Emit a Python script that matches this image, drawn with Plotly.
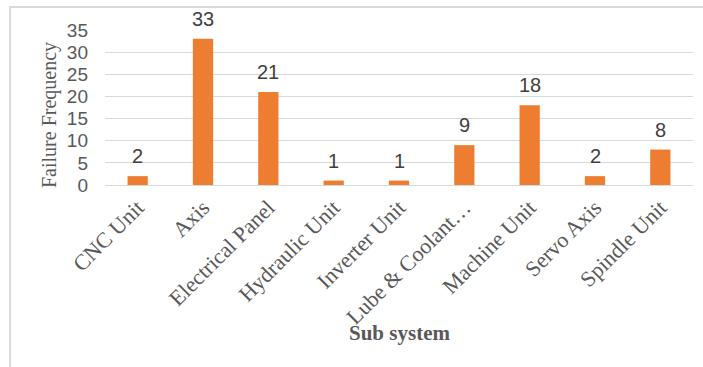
import plotly.graph_objects as go

categories = ["CNC Unit", "Axis", "Electrical Panel", "Hydraulic Unit", "Inverter Unit",
              "Lube & Coolant…", "Machine Unit", "Servo Axis", "Spindle Unit"]
values = [2, 33, 21, 1, 1, 9, 18, 2, 8]
y_ticks = [0, 5, 10, 15, 20, 25, 30, 35]

W, H = 703, 367
L, R, T, B = 105, 10, 30, 182
pw, ph = W - L - R, H - T - B

fig = go.Figure()
fig.add_trace(go.Bar(x=categories, y=values, marker_color="#ED7D31",
                     marker_line_width=0, width=0.31))

annotations = []
for c, v in zip(categories, values):
    annotations.append(dict(x=c, y=v, xref="x", yref="y", text=str(v), showarrow=False,
                            yanchor="bottom", yshift=7,
                            font=dict(family="Liberation Sans", size=20, color="#404040")))
annotations.append(dict(x=(49 - L) / pw, y=(185 - 115) / ph, xref="paper", yref="paper",
                        text="Failure Frequency", textangle=-90, showarrow=False,
                        xanchor="center", yanchor="middle",
                        font=dict(family="Liberation Serif", size=20, color="#595959")))
annotations.append(dict(x=(399 - L) / pw, y=(185 - 333) / ph, xref="paper", yref="paper",
                        text="<b>Sub system</b>", showarrow=False,
                        xanchor="center", yanchor="middle",
                        font=dict(family="Liberation Serif", size=21, color="#595959")))

fig.update_layout(
    width=W, height=H,
    margin=dict(l=L, r=R, t=T, b=B),
    paper_bgcolor="white", plot_bgcolor="white",
    showlegend=False,
    annotations=annotations,
    shapes=[dict(type="rect", xref="paper", yref="paper",
                 x0=(10 - L) / pw, x1=(712 - L) / pw,
                 y0=(185 - 380) / ph, y1=(185 - 7) / ph,
                 line=dict(color="#d9d9d9", width=2), fillcolor="rgba(0,0,0,0)", layer="below")],
)
fig.update_xaxes(tickangle=-45, showgrid=False, showline=True, linecolor="#d9d9d9", linewidth=1,
                 ticks="", tickfont=dict(family="Liberation Serif", size=22, color="#595959"))
fig.update_yaxes(range=[0, 35], tickvals=y_ticks, showgrid=True, gridcolor="#d9d9d9", gridwidth=1,
                 zeroline=False, showline=False, ticks="", ticklabelstandoff=16,
                 tickfont=dict(family="Liberation Sans", size=19, color="#595959"))

fig.write_html("out.html")
